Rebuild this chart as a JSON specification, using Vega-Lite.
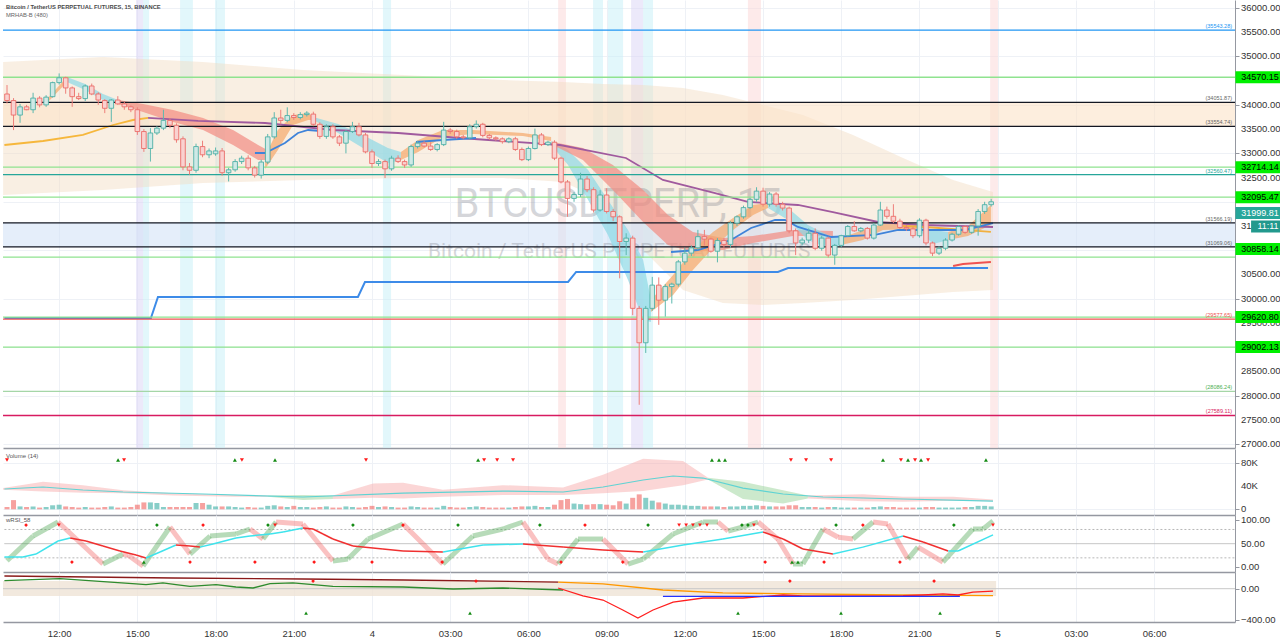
{
"$schema":"https://vega.github.io/schema/vega-lite/v6.json",
"padding":0,"spacing":0,"background":"#ffffff",
"resolve":{"scale":{"x":"independent","y":"independent","color":"independent","shape":"independent"}},
"datasets":{
"candles":[
{"h":10,"o":34225,"hi":34410,"lo":34030,"c":34090,"v":4},{"h":10.25,"o":34090,"hi":34140,"lo":33480,"c":33790,"v":16},{"h":10.5,"o":33790,"hi":34020,"lo":33630,"c":33960,"v":5},{"h":10.75,"o":33960,"hi":34000,"lo":33890,"c":33900,"v":4},{"h":11,"o":33900,"hi":34250,"lo":33830,"c":34140,"v":5},{"h":11.25,"o":34140,"hi":34180,"lo":33950,"c":34000,"v":3},{"h":11.5,"o":34000,"hi":34200,"lo":33960,"c":34160,"v":4},{"h":11.75,"o":34170,"hi":34480,"lo":34150,"c":34460,"v":7},{"h":12,"o":34460,"hi":34650,"lo":34420,"c":34560,"v":8},{"h":12.25,"o":34560,"hi":34580,"lo":34230,"c":34350,"v":5},
{"h":12.5,"o":34350,"hi":34380,"lo":33960,"c":34170,"v":4},{"h":12.75,"o":34170,"hi":34250,"lo":34100,"c":34130,"v":3},{"h":13,"o":34130,"hi":34420,"lo":34080,"c":34390,"v":4},{"h":13.25,"o":34390,"hi":34440,"lo":34200,"c":34225,"v":3},{"h":13.5,"o":34225,"hi":34260,"lo":34000,"c":34100,"v":3},{"h":13.75,"o":34090,"hi":34120,"lo":33830,"c":33930,"v":4},{"h":14,"o":33930,"hi":34120,"lo":33650,"c":34100,"v":5},{"h":14.25,"o":34100,"hi":34180,"lo":34000,"c":34020,"v":3},{"h":14.5,"o":34020,"hi":34060,"lo":33900,"c":33960,"v":3},{"h":14.75,"o":33960,"hi":33990,"lo":33850,"c":33900,"v":4},
{"h":15,"o":33900,"hi":33950,"lo":33380,"c":33450,"v":8},{"h":15.25,"o":33450,"hi":33500,"lo":33030,"c":33100,"v":12},{"h":15.5,"o":33100,"hi":33520,"lo":32830,"c":33420,"v":12},{"h":15.75,"o":33420,"hi":33560,"lo":33380,"c":33520,"v":11},{"h":16,"o":33520,"hi":33900,"lo":33480,"c":33680,"v":4},{"h":16.25,"o":33680,"hi":33720,"lo":33520,"c":33580,"v":4},{"h":16.5,"o":33580,"hi":33620,"lo":33220,"c":33280,"v":4},{"h":16.75,"o":33300,"hi":33350,"lo":32650,"c":32720,"v":4},{"h":17,"o":32720,"hi":32800,"lo":32560,"c":32650,"v":4},{"h":17.25,"o":32650,"hi":33200,"lo":32600,"c":33140,"v":11},
{"h":17.5,"o":33140,"hi":33260,"lo":32920,"c":32970,"v":11},{"h":17.75,"o":32970,"hi":33100,"lo":32900,"c":33050,"v":8},{"h":18,"o":32990,"hi":33120,"lo":32950,"c":33050,"v":5},{"h":18.25,"o":33050,"hi":33110,"lo":32540,"c":32600,"v":5},{"h":18.5,"o":32600,"hi":32700,"lo":32420,"c":32660,"v":5},{"h":18.75,"o":32660,"hi":32880,"lo":32620,"c":32830,"v":4},{"h":19,"o":32830,"hi":32950,"lo":32780,"c":32900,"v":3},{"h":19.25,"o":32900,"hi":32960,"lo":32650,"c":32700,"v":4},{"h":19.5,"o":32700,"hi":32740,"lo":32500,"c":32550,"v":3},{"h":19.75,"o":32550,"hi":32870,"lo":32480,"c":32820,"v":3},
{"h":20,"o":32820,"hi":33400,"lo":32780,"c":33340,"v":6},{"h":20.25,"o":33340,"hi":33850,"lo":33300,"c":33730,"v":7},{"h":20.5,"o":33730,"hi":33900,"lo":33600,"c":33680,"v":5},{"h":20.75,"o":33680,"hi":33950,"lo":33640,"c":33780,"v":4},{"h":21,"o":33780,"hi":33830,"lo":33690,"c":33740,"v":6},{"h":21.25,"o":33740,"hi":33850,"lo":33700,"c":33800,"v":4},{"h":21.5,"o":33800,"hi":33870,"lo":33760,"c":33830,"v":4},{"h":21.75,"o":33810,"hi":33860,"lo":33560,"c":33600,"v":3},{"h":22,"o":33600,"hi":33640,"lo":33300,"c":33350,"v":4},{"h":22.25,"o":33350,"hi":33600,"lo":33300,"c":33550,"v":5},
{"h":22.5,"o":33550,"hi":33600,"lo":33300,"c":33340,"v":3},{"h":22.75,"o":33340,"hi":33380,"lo":33150,"c":33210,"v":3},{"h":23,"o":33210,"hi":33480,"lo":33000,"c":33450,"v":5},{"h":23.25,"o":33450,"hi":33650,"lo":33420,"c":33550,"v":4},{"h":23.5,"o":33550,"hi":33630,"lo":33350,"c":33380,"v":3},{"h":23.75,"o":33380,"hi":33420,"lo":33000,"c":33030,"v":4},{"h":24,"o":33030,"hi":33080,"lo":32700,"c":32790,"v":6},{"h":24.25,"o":32790,"hi":32880,"lo":32740,"c":32830,"v":4},{"h":24.5,"o":32830,"hi":32870,"lo":32490,"c":32680,"v":5},{"h":24.75,"o":32680,"hi":32950,"lo":32640,"c":32900,"v":4},
{"h":25,"o":32900,"hi":32960,"lo":32800,"c":32830,"v":3},{"h":25.25,"o":32830,"hi":32870,"lo":32700,"c":32760,"v":3},{"h":25.5,"o":32760,"hi":33180,"lo":32720,"c":33140,"v":5},{"h":25.75,"o":33140,"hi":33260,"lo":33100,"c":33210,"v":4},{"h":26,"o":33210,"hi":33250,"lo":33120,"c":33150,"v":3},{"h":26.25,"o":33150,"hi":33230,"lo":33050,"c":33080,"v":3},{"h":26.5,"o":33080,"hi":33210,"lo":33040,"c":33180,"v":3},{"h":26.75,"o":33180,"hi":33650,"lo":33150,"c":33480,"v":6},{"h":27,"o":33480,"hi":33520,"lo":33400,"c":33450,"v":4},{"h":27.25,"o":33450,"hi":33490,"lo":33300,"c":33340,"v":3},
{"h":27.5,"o":33340,"hi":33380,"lo":33290,"c":33320,"v":3},{"h":27.75,"o":33320,"hi":33600,"lo":33290,"c":33550,"v":4},{"h":28,"o":33550,"hi":33680,"lo":33510,"c":33600,"v":5},{"h":28.25,"o":33600,"hi":33630,"lo":33330,"c":33370,"v":4},{"h":28.5,"o":33370,"hi":33400,"lo":33280,"c":33320,"v":3},{"h":28.75,"o":33320,"hi":33350,"lo":33260,"c":33300,"v":3},{"h":29,"o":33300,"hi":33330,"lo":33200,"c":33240,"v":3},{"h":29.25,"o":33240,"hi":33330,"lo":33210,"c":33300,"v":3},{"h":29.5,"o":33300,"hi":33340,"lo":33050,"c":33080,"v":4},{"h":29.75,"o":33080,"hi":33120,"lo":32840,"c":32870,"v":5},
{"h":30,"o":32870,"hi":33140,"lo":32840,"c":33100,"v":5},{"h":30.25,"o":33100,"hi":33510,"lo":33080,"c":33380,"v":6},{"h":30.5,"o":33380,"hi":33420,"lo":33150,"c":33180,"v":4},{"h":30.75,"o":33180,"hi":33260,"lo":33150,"c":33230,"v":4},{"h":31,"o":33230,"hi":33270,"lo":32860,"c":32900,"v":8},{"h":31.25,"o":32900,"hi":32930,"lo":32380,"c":32410,"v":16},{"h":31.5,"o":32410,"hi":32450,"lo":31690,"c":32070,"v":18},{"h":31.75,"o":32070,"hi":32200,"lo":32000,"c":32150,"v":10},{"h":32,"o":32150,"hi":32600,"lo":32100,"c":32470,"v":9},{"h":32.25,"o":32470,"hi":32530,"lo":32200,"c":32250,"v":8},
{"h":32.5,"o":32250,"hi":32300,"lo":31780,"c":31830,"v":9},{"h":32.75,"o":31830,"hi":32240,"lo":31800,"c":32140,"v":9},{"h":33,"o":32140,"hi":32280,"lo":31760,"c":31800,"v":8},{"h":33.25,"o":31800,"hi":31850,"lo":31600,"c":31690,"v":7},{"h":33.5,"o":31690,"hi":31720,"lo":30420,"c":31180,"v":14},{"h":33.75,"o":31180,"hi":31350,"lo":30900,"c":31250,"v":10},{"h":34,"o":31250,"hi":31300,"lo":29660,"c":29800,"v":20},{"h":34.25,"o":29800,"hi":29850,"lo":27810,"c":29090,"v":26},{"h":34.5,"o":29090,"hi":29850,"lo":28880,"c":29800,"v":20},{"h":34.75,"o":29800,"hi":30450,"lo":29750,"c":30280,"v":15},
{"h":35,"o":30280,"hi":30440,"lo":29460,"c":29970,"v":12},{"h":35.25,"o":29970,"hi":30300,"lo":29630,"c":30250,"v":10},{"h":35.5,"o":30250,"hi":30330,"lo":29900,"c":30300,"v":8},{"h":35.75,"o":30300,"hi":30800,"lo":30250,"c":30760,"v":8},{"h":36,"o":30760,"hi":31050,"lo":30700,"c":30940,"v":7},{"h":36.25,"o":30940,"hi":31100,"lo":30880,"c":31050,"v":6},{"h":36.5,"o":31050,"hi":31420,"lo":31000,"c":31280,"v":6},{"h":36.75,"o":31280,"hi":31420,"lo":31100,"c":31230,"v":5},{"h":37,"o":31230,"hi":31260,"lo":30950,"c":30980,"v":5},{"h":37.25,"o":30980,"hi":31250,"lo":30750,"c":31200,"v":5},
{"h":37.5,"o":31200,"hi":31250,"lo":31050,"c":31120,"v":4},{"h":37.75,"o":31120,"hi":31600,"lo":31050,"c":31560,"v":5},{"h":38,"o":31560,"hi":31720,"lo":31500,"c":31690,"v":5},{"h":38.25,"o":31690,"hi":31920,"lo":31650,"c":31880,"v":6},{"h":38.5,"o":31880,"hi":32080,"lo":31850,"c":32050,"v":6},{"h":38.75,"o":32050,"hi":32300,"lo":32000,"c":32220,"v":7},{"h":39,"o":32220,"hi":32290,"lo":31900,"c":31950,"v":6},{"h":39.25,"o":31950,"hi":32200,"lo":31900,"c":32160,"v":5},{"h":39.5,"o":32160,"hi":32200,"lo":31900,"c":31950,"v":5},{"h":39.75,"o":31950,"hi":32000,"lo":31820,"c":31870,"v":5},
{"h":40,"o":31870,"hi":31900,"lo":31350,"c":31400,"v":7},{"h":40.25,"o":31400,"hi":31450,"lo":30900,"c":31150,"v":7},{"h":40.5,"o":31150,"hi":31260,"lo":31100,"c":31210,"v":4},{"h":40.75,"o":31210,"hi":31450,"lo":31150,"c":31350,"v":4},{"h":41,"o":31350,"hi":31450,"lo":31000,"c":31040,"v":4},{"h":41.25,"o":31040,"hi":31300,"lo":30990,"c":31250,"v":3},{"h":41.5,"o":31250,"hi":31280,"lo":30850,"c":30900,"v":4},{"h":41.75,"o":30900,"hi":31130,"lo":30700,"c":31100,"v":4},{"h":42,"o":31100,"hi":31320,"lo":31060,"c":31300,"v":3},{"h":42.25,"o":31300,"hi":31520,"lo":31280,"c":31490,"v":3},
{"h":42.5,"o":31490,"hi":31600,"lo":31380,"c":31400,"v":3},{"h":42.75,"o":31400,"hi":31480,"lo":31370,"c":31450,"v":3},{"h":43,"o":31450,"hi":31480,"lo":31220,"c":31250,"v":3},{"h":43.25,"o":31250,"hi":31560,"lo":31220,"c":31520,"v":4},{"h":43.5,"o":31520,"hi":32000,"lo":31500,"c":31830,"v":5},{"h":43.75,"o":31830,"hi":31900,"lo":31650,"c":31700,"v":4},{"h":44,"o":31700,"hi":31950,"lo":31560,"c":31600,"v":4},{"h":44.25,"o":31600,"hi":31650,"lo":31440,"c":31470,"v":3},{"h":44.5,"o":31470,"hi":31520,"lo":31400,"c":31440,"v":3},{"h":44.75,"o":31440,"hi":31480,"lo":31250,"c":31300,"v":3},
{"h":45,"o":31300,"hi":31660,"lo":31260,"c":31620,"v":3},{"h":45.25,"o":31620,"hi":31650,"lo":31100,"c":31150,"v":4},{"h":45.5,"o":31150,"hi":31180,"lo":30880,"c":30940,"v":4},{"h":45.75,"o":30940,"hi":31080,"lo":30900,"c":31040,"v":3},{"h":46,"o":31040,"hi":31250,"lo":31000,"c":31210,"v":3},{"h":46.25,"o":31210,"hi":31360,"lo":31180,"c":31330,"v":3},{"h":46.5,"o":31330,"hi":31520,"lo":31300,"c":31490,"v":3},{"h":46.75,"o":31490,"hi":31520,"lo":31340,"c":31370,"v":4},{"h":47,"o":31370,"hi":31520,"lo":31340,"c":31500,"v":4},{"h":47.25,"o":31500,"hi":31850,"lo":31300,"c":31800,"v":6},
{"h":47.5,"o":31800,"hi":32000,"lo":31750,"c":31940,"v":6},{"h":47.75,"o":31940,"hi":32060,"lo":31900,"c":32000,"v":5}
],
"stripes":[{"h":14.95,"h2":15.22,"k":"s2"},{"h":15.22,"h2":15.45,"k":"s1"},{"h":16.64,"h2":17.13,"k":"s1"},{"h":17.98,"h2":18.36,"k":"s1"},{"h":24.42,"h2":24.73,"k":"s1"},{"h":31.14,"h2":31.44,"k":"s3"},{"h":32.48,"h2":32.86,"k":"s1"},{"h":33.05,"h2":33.63,"k":"s1"},{"h":33.94,"h2":34.4,"k":"s2"},{"h":34.4,"h2":34.78,"k":"s1"},{"h":38.42,"h2":38.92,"k":"s3"},{"h":47.71,"h2":48.01,"k":"s3"}],
"env":[{"h":9.85,"a":34885,"b":32140},{"h":13.68,"a":34989,"b":32243},{"h":17.52,"a":34885,"b":32388},{"h":21.35,"a":34720,"b":32450},{"h":25.19,"a":34617,"b":32491},{"h":29.02,"a":34514,"b":32491},{"h":31.33,"a":34473,"b":32409},{"h":32.86,"a":34431,"b":32037},{"h":34.4,"a":34411,"b":31005},{"h":35.93,"a":34349,"b":30180},{"h":37.46,"a":34204,"b":29911},{"h":39.0,"a":33998,"b":29870},{"h":40.53,"a":33792,"b":29911},{"h":42.45,"a":33379,"b":29973},{"h":44.37,"a":32904,"b":30056},{"h":46.29,"a":32450,"b":30138},{"h":47.82,"a":32202,"b":30180}],
"zones":[{"a":34051.87,"b":33554.74,"k":"z1"},{"a":31566.19,"b":31069.06,"k":"z2"}],
"rib":[
{"g":"B0","k":"bull","h":11.5,"a":34101,"b":34019},{"g":"B0","k":"bull","h":12.3,"a":34576,"b":34473},
{"g":"C0","k":"fast","h":12.3,"a":34576,"b":34473},{"g":"C0","k":"fast","h":13.0,"a":34431,"b":34307},{"g":"C0","k":"fast","h":13.68,"a":34225,"b":34101},{"g":"C0","k":"fast","h":14.26,"a":34101,"b":34019},
{"g":"A","k":"bear","h":14.26,"a":34101,"b":34019},{"g":"A","k":"bear","h":15.22,"a":34019,"b":33853},{"g":"A","k":"bear","h":16.37,"a":33895,"b":33647},{"g":"A","k":"bear","h":17.52,"a":33730,"b":33482},{"g":"A","k":"bear","h":18.67,"a":33482,"b":33172},{"g":"A","k":"bear","h":19.63,"a":33172,"b":32863},{"g":"A","k":"bear","h":20.13,"a":33028,"b":32863},
{"g":"B","k":"bull","h":19.9,"a":32945,"b":32677},{"g":"B","k":"bull","h":20.39,"a":33482,"b":33069},{"g":"B","k":"bull","h":20.97,"a":33792,"b":33585},{"g":"B","k":"bull","h":21.55,"a":33833,"b":33688},{"g":"B","k":"bull","h":21.74,"a":33750,"b":33688},
{"g":"C1","k":"fast","h":21.74,"a":33750,"b":33688},{"g":"C1","k":"fast","h":22.7,"a":33606,"b":33420},{"g":"C1","k":"fast","h":23.65,"a":33379,"b":33110},{"g":"C1","k":"fast","h":24.61,"a":33110,"b":32801},{"g":"C1","k":"fast","h":25.11,"a":33028,"b":32863},
{"g":"B2","k":"bull","h":25.11,"a":33028,"b":32863},{"g":"B2","k":"bull","h":25.77,"a":33275,"b":33028},{"g":"B2","k":"bull","h":26.72,"a":33482,"b":33338},{"g":"B2","k":"bull","h":27.87,"a":33482,"b":33399},{"g":"B2","k":"bull","h":29.79,"a":33420,"b":33358},{"g":"B2","k":"bull","h":30.87,"a":33337,"b":33255},
{"g":"C2","k":"fast","h":30.87,"a":33255,"b":33172},{"g":"C2","k":"fast","h":31.52,"a":33069,"b":32760},{"g":"C2","k":"fast","h":32.29,"a":32656,"b":32037},{"g":"C2","k":"fast","h":33.05,"a":32037,"b":31315},{"g":"C2","k":"fast","h":33.82,"a":31418,"b":30386},{"g":"C2","k":"fast","h":34.4,"a":30799,"b":29560},{"g":"C2","k":"fast","h":34.7,"a":29973,"b":29519},
{"g":"D","k":"bear","h":30.94,"a":33234,"b":33172},{"g":"D","k":"bear","h":32.09,"a":33110,"b":32863},{"g":"D","k":"bear","h":33.24,"a":32760,"b":32243},{"g":"D","k":"bear","h":34.4,"a":32243,"b":31583},{"g":"D","k":"bear","h":35.35,"a":31728,"b":31108},{"g":"D","k":"bear","h":36.31,"a":31376,"b":30963},{"g":"D","k":"bear","h":37.46,"a":31253,"b":31005},{"g":"D","k":"bear","h":38.61,"a":31294,"b":31150},{"g":"D","k":"bear","h":40.15,"a":31418,"b":31294},{"g":"D","k":"bear","h":41.68,"a":31397,"b":31294},
{"g":"E","k":"bull","h":34.7,"a":29973,"b":29725},{"g":"E","k":"bull","h":35.55,"a":30489,"b":30076},{"g":"E","k":"bull","h":36.31,"a":31005,"b":30592},{"g":"E","k":"bull","h":37.08,"a":31376,"b":31046},{"g":"E","k":"bull","h":37.85,"a":31665,"b":31418},{"g":"E","k":"bull","h":38.62,"a":31934,"b":31728},{"g":"E","k":"bull","h":39.19,"a":31975,"b":31872},
{"g":"F","k":"fast","h":39.19,"a":31975,"b":31872},{"g":"F","k":"fast","h":39.96,"a":31872,"b":31624},{"g":"F","k":"fast","h":40.72,"a":31521,"b":31211},{"g":"F","k":"fast","h":41.49,"a":31315,"b":31046},{"g":"F","k":"fast","h":41.99,"a":31253,"b":31108},
{"g":"G","k":"bull","h":41.99,"a":31253,"b":31108},{"g":"G","k":"bull","h":42.83,"a":31418,"b":31211},{"g":"G","k":"bull","h":43.6,"a":31541,"b":31418},{"g":"G","k":"bull","h":44.94,"a":31541,"b":31438},
{"g":"H","k":"fast","h":44.94,"a":31541,"b":31438},{"g":"H","k":"fast","h":45.52,"a":31418,"b":31129},{"g":"H","k":"fast","h":46.1,"a":31376,"b":31211},
{"g":"I","k":"bull","h":46.1,"a":31376,"b":31211},{"g":"I","k":"bull","h":46.86,"a":31500,"b":31294},{"g":"I","k":"bull","h":47.74,"a":31934,"b":31521}
],
"mas":[
{"g":"gold","k":"m1","h":9.9,"p":33172},{"g":"gold","k":"m1","h":11.38,"p":33255},{"g":"gold","k":"m1","h":12.91,"p":33379},{"g":"gold","k":"m1","h":14.07,"p":33585},{"g":"gold","k":"m1","h":14.83,"p":33688},{"g":"gold","k":"m1","h":15.41,"p":33730},
{"g":"pur","k":"m2","h":15.41,"p":33730},{"g":"pur","k":"m2","h":17.33,"p":33668},{"g":"pur","k":"m2","h":19.9,"p":33626},{"g":"pur","k":"m2","h":22.5,"p":33482},{"g":"pur","k":"m2","h":25.0,"p":33420},{"g":"pur","k":"m2","h":27.38,"p":33317},{"g":"pur","k":"m2","h":31.21,"p":33172},{"g":"pur","k":"m2","h":33.74,"p":32904},{"g":"pur","k":"m2","h":35.16,"p":32450},{"g":"pur","k":"m2","h":37.16,"p":32181},{"g":"pur","k":"m2","h":38.42,"p":31996},{"g":"pur","k":"m2","h":40.34,"p":31934},{"g":"pur","k":"m2","h":41.68,"p":31789},{"g":"pur","k":"m2","h":43.41,"p":31583},{"g":"pur","k":"m2","h":45.14,"p":31521},{"g":"pur","k":"m2","h":47.82,"p":31480},
{"g":"org","k":"m3","h":44.37,"p":31500},{"g":"org","k":"m3","h":45.22,"p":31480},{"g":"org","k":"m3","h":47.74,"p":31377},
{"g":"b1","k":"m4","h":19.51,"p":33007},{"g":"b1","k":"m4","h":19.9,"p":33007},{"g":"b1","k":"m4","h":20.66,"p":33214},{"g":"b1","k":"m4","h":21.16,"p":33420},{"g":"b1","k":"m4","h":21.55,"p":33482},{"g":"b1","k":"m4","h":22.04,"p":33461},
{"g":"b2","k":"m4","h":25.69,"p":33234},{"g":"b2","k":"m4","h":26.72,"p":33275},{"g":"b2","k":"m4","h":27.99,"p":33317},
{"g":"b3","k":"m4","h":35.47,"p":30964},{"g":"b3","k":"m4","h":36.5,"p":31005},{"g":"b3","k":"m4","h":37.77,"p":31211},{"g":"b3","k":"m4","h":38.54,"p":31459},{"g":"b3","k":"m4","h":39.46,"p":31624},{"g":"b3","k":"m4","h":39.84,"p":31624},{"g":"b3","k":"m4","h":40.34,"p":31480},{"g":"b3","k":"m4","h":41.61,"p":31273},{"g":"b3","k":"m4","h":43.29,"p":31315},{"g":"b3","k":"m4","h":44.18,"p":31418},{"g":"b3","k":"m4","h":46.75,"p":31418},{"g":"b3","k":"m4","h":47.82,"p":31562}
],
"step":[
{"g":"t1","h":9.9,"p":29602},{"g":"t1","h":15.52,"p":29602},{"g":"t1","h":15.79,"p":30035},{"g":"t1","h":23.46,"p":30035},{"g":"t1","h":23.73,"p":30345},{"g":"t1","h":31.52,"p":30345},{"g":"t1","h":31.83,"p":30551},{"g":"t1","h":39.57,"p":30551},{"g":"t1","h":39.96,"p":30634},{"g":"t1","h":47.63,"p":30634},
{"g":"t2","h":46.29,"p":30675},{"g":"t2","h":46.67,"p":30716},{"g":"t2","h":47.74,"p":30757}
],
"levels":[
{"p":35543.28,"k":"r3","lbl":"(35543.28)"},{"p":34570.15,"k":"lvl","lbl":""},{"p":34051.87,"k":"zone","lbl":"(34051.87)"},{"p":33554.74,"k":"zone","lbl":"(33554.74)"},{"p":32714.14,"k":"lvl","lbl":""},{"p":32560.47,"k":"pv","lbl":"(32560.47)"},{"p":32095.47,"k":"lvl","lbl":""},{"p":31566.19,"k":"zone","lbl":"(31566.19)"},{"p":31069.06,"k":"zone","lbl":"(31069.06)"},{"p":30858.14,"k":"lvl","lbl":""},{"p":29620.8,"k":"lvl","lbl":""},{"p":29577.65,"k":"s1","lbl":"(29577.65)"},{"p":29002.13,"k":"lvl","lbl":""},{"p":28086.24,"k":"s2","lbl":"(28086.24)"},{"p":27589.11,"k":"s3","lbl":"(27589.11)"}
],
"pticks":[{"p":27000},{"p":27500},{"p":28000},{"p":28500},{"p":29500},{"p":30000},{"p":30500},{"p":31000},{"p":31500},{"p":32500},{"p":33000},{"p":33500},{"p":34000},{"p":35000},{"p":35500},{"p":36000}],
"tags":[{"p":34570.15,"lbl":"34570.15","k":"lvl"},{"p":32714.14,"lbl":"32714.14","k":"lvl"},{"p":32095.47,"lbl":"32095.47","k":"lvl"},{"p":31026,"lbl":"30858.14","k":"lvl"},{"p":29620.8,"lbl":"29620.80","k":"lvl"},{"p":29002.13,"lbl":"29002.13","k":"lvl"},{"p":31770,"lbl":"31999.81","k":"last"}],
"vma":[{"h":9.9,"m":35.3},{"h":11.38,"m":38.8},{"h":12.91,"m":33.6},{"h":14.45,"m":30.1},{"h":17.52,"m":26.6},{"h":21.35,"m":21.4},{"h":25.19,"m":28.3},{"h":29.02,"m":31.8},{"h":31.33,"m":30.1},{"h":32.86,"m":38.8},{"h":34.4,"m":51},{"h":35.55,"m":57.9},{"h":36.7,"m":54.4},{"h":38.23,"m":37},{"h":39.77,"m":26.6},{"h":41.3,"m":21.4},{"h":44.37,"m":17.9},{"h":47.82,"m":14.4}],
"vband":[
{"g":"1","k":"dn","h":9.85,"a":37,"b":34},{"g":"1","k":"dn","h":11.38,"a":48,"b":31},{"g":"1","k":"dn","h":12.91,"a":42,"b":29},{"g":"1","k":"dn","h":14.45,"a":33,"b":28},{"g":"1","k":"dn","h":16.37,"a":28,"b":24},{"g":"1","k":"dn","h":18.67,"a":25,"b":22},{"g":"1","k":"dn","h":20.01,"a":24,"b":22},
{"g":"2","k":"up","h":20.01,"a":24,"b":22},{"g":"2","k":"up","h":21.35,"a":25,"b":16},{"g":"2","k":"up","h":22.5,"a":24,"b":18},
{"g":"3","k":"dn","h":22.5,"a":24,"b":18},{"g":"3","k":"dn","h":24.04,"a":45,"b":20},{"g":"3","k":"dn","h":25.19,"a":46,"b":19},{"g":"3","k":"dn","h":26.72,"a":34,"b":22},{"g":"3","k":"dn","h":29.02,"a":42,"b":25},{"g":"3","k":"dn","h":31.33,"a":38,"b":25},{"g":"3","k":"dn","h":32.86,"a":60,"b":28},{"g":"3","k":"dn","h":34.4,"a":88,"b":32},{"g":"3","k":"dn","h":35.93,"a":84,"b":42},{"g":"3","k":"dn","h":36.89,"a":55,"b":52},
{"g":"4","k":"up","h":36.89,"a":55,"b":52},{"g":"4","k":"up","h":38.23,"a":48,"b":18},{"g":"4","k":"up","h":39.77,"a":33,"b":10},{"g":"4","k":"up","h":40.72,"a":24,"b":19},
{"g":"5","k":"dn","h":40.72,"a":24,"b":19},{"g":"5","k":"dn","h":42.83,"a":26,"b":14},{"g":"5","k":"dn","h":44.37,"a":22,"b":13},{"g":"5","k":"dn","h":46.29,"a":22,"b":15},{"g":"5","k":"dn","h":47.82,"a":17,"b":14}
],
"vticks":[{"v":0,"t":"0"},{"v":40,"t":"40K"},{"v":80,"t":"80K"}],
"vmark":[{"h":10.0,"d":"dn"},{"h":14.26,"d":"up"},{"h":14.49,"d":"dn"},{"h":18.74,"d":"up"},{"h":19.01,"d":"dn"},{"h":20.28,"d":"up"},{"h":23.77,"d":"dn"},{"h":28.07,"d":"up"},{"h":28.3,"d":"dn"},{"h":28.8,"d":"dn"},{"h":29.41,"d":"dn"},{"h":37.04,"d":"up"},{"h":37.31,"d":"up"},{"h":37.54,"d":"up"},{"h":40.07,"d":"dn"},{"h":40.65,"d":"dn"},{"h":41.61,"d":"dn"},{"h":43.6,"d":"up"},{"h":44.29,"d":"dn"},{"h":44.56,"d":"up"},{"h":44.83,"d":"dn"},{"h":45.06,"d":"up"},{"h":45.33,"d":"dn"},{"h":47.55,"d":"up"}],
"fast":[{"h":10.0,"r":14},{"h":11.0,"r":66.2},{"h":11.96,"r":95.8},{"h":13.68,"r":7},{"h":14.45,"r":28.1},{"h":14.64,"r":26},{"h":15.22,"r":2.7},{"h":16.25,"r":85.2},{"h":17.02,"r":28.1},{"h":17.79,"r":66.2},{"h":18.78,"r":70.4},{"h":19.32,"r":81},{"h":19.82,"r":59.8},{"h":20.32,"r":95.8},{"h":21.35,"r":91.5},{"h":22.5,"r":13.3},{"h":23.08,"r":17.5},{"h":23.85,"r":59.8},{"h":25.19,"r":91.5},{"h":25.96,"r":49.3},{"h":26.72,"r":7},{"h":27.87,"r":66.2},{"h":29.02,"r":81},{"h":29.79,"r":95.8},{"h":30.75,"r":17.5},{"h":31.14,"r":7},{"h":31.9,"r":59.8},{"h":32.86,"r":59.8},{"h":33.82,"r":7},{"h":34.4,"r":17.5},{"h":35.55,"r":70.4},{"h":36.7,"r":95.8},{"h":37.27,"r":95.8},{"h":37.66,"r":76.7},{"h":38.23,"r":85.2},{"h":38.81,"r":95.8},{"h":39.57,"r":59.8},{"h":40.15,"r":7},{"h":40.53,"r":7},{"h":41.3,"r":81},{"h":41.88,"r":63.5},{"h":42.45,"r":59.8},{"h":43.22,"r":95.8},{"h":43.79,"r":91.5},{"h":44.56,"r":17.5},{"h":44.94,"r":42.7},{"h":45.9,"r":11.2},{"h":47.05,"r":81},{"h":47.44,"r":81},{"h":47.82,"r":97.9}],
"slow":[{"h":9.9,"r":21.8},{"h":10.61,"r":21.8},{"h":11.11,"r":28.1},{"h":11.96,"r":55.6},{"h":12.42,"r":61.9},{"h":13.03,"r":55.6},{"h":13.68,"r":45},{"h":14.33,"r":34.5},{"h":14.95,"r":26},{"h":15.33,"r":19.7},{"h":15.87,"r":32.3},{"h":16.48,"r":47.1},{"h":17.02,"r":45},{"h":17.4,"r":42.7},{"h":17.9,"r":49.3},{"h":18.78,"r":61.9},{"h":19.32,"r":66.2},{"h":20.09,"r":70.4},{"h":20.59,"r":74.6},{"h":21.35,"r":83.1},{"h":21.74,"r":81},{"h":22.12,"r":70.4},{"h":22.5,"r":59.8},{"h":23.27,"r":45},{"h":24.42,"r":38.7},{"h":25.19,"r":34.5},{"h":26.72,"r":32.3},{"h":28.26,"r":47.1},{"h":29.79,"r":49.3},{"h":31.33,"r":42.7},{"h":32.86,"r":36.6},{"h":34.4,"r":32.3},{"h":35.93,"r":47.1},{"h":37.46,"r":59.8},{"h":39.0,"r":74.6},{"h":39.77,"r":59.8},{"h":40.53,"r":38.7},{"h":41.68,"r":28.1},{"h":42.83,"r":42.7},{"h":44.37,"r":66.2},{"h":45.14,"r":53.5},{"h":46.1,"r":34.5},{"h":46.48,"r":34.5},{"h":47.82,"r":68.5}],
"rsil":[{"r":80,"k":"ob"},{"r":50,"k":"mid"},{"r":20,"k":"os"}],
"rticks":[{"r":0},{"r":50},{"r":100}],
"rmark":[{"h":10.73,"r":89.4,"d":"dn","s":"d"},{"h":11.99,"r":89.4,"d":"dn","s":"t"},{"h":17.52,"r":89.4,"d":"dn","s":"d"},{"h":20.28,"r":89.4,"d":"dn","s":"t"},{"h":25.19,"r":89.4,"d":"dn","s":"d"},{"h":32.17,"r":89.4,"d":"dn","s":"d"},{"h":35.78,"r":89.4,"d":"dn","s":"t"},{"h":36.05,"r":89.4,"d":"dn","s":"t"},{"h":36.31,"r":89.4,"d":"dn","s":"t"},{"h":36.58,"r":89.4,"d":"dn","s":"t"},{"h":36.85,"r":89.4,"d":"dn","s":"t"},{"h":38.65,"r":89.4,"d":"dn","s":"t"},{"h":42.83,"r":89.4,"d":"dn","s":"d"},{"h":47.82,"r":89.4,"d":"dn","s":"t"},
{"h":15.75,"r":89.4,"d":"up","s":"d"},{"h":20.01,"r":89.4,"d":"up","s":"d"},{"h":23.27,"r":89.4,"d":"up","s":"d"},{"h":27.3,"r":89.4,"d":"up","s":"d"},{"h":30.44,"r":89.4,"d":"up","s":"d"},{"h":34.59,"r":89.4,"d":"up","s":"d"},{"h":38.19,"r":89.4,"d":"up","s":"d"},{"h":38.42,"r":89.4,"d":"up","s":"d"},{"h":41.8,"r":89.4,"d":"up","s":"d"},{"h":46.32,"r":89.4,"d":"up","s":"d"},
{"h":12.49,"r":11.2,"d":"dn","s":"d"},{"h":17.02,"r":11.2,"d":"dn","s":"d"},{"h":19.51,"r":11.2,"d":"dn","s":"d"},{"h":21.78,"r":11.2,"d":"dn","s":"d"},{"h":24.0,"r":11.2,"d":"dn","s":"d"},{"h":26.69,"r":11.2,"d":"dn","s":"d"},{"h":31.25,"r":11.2,"d":"dn","s":"d"},{"h":33.62,"r":11.2,"d":"dn","s":"d"},{"h":39.08,"r":11.2,"d":"dn","s":"d"},{"h":41.34,"r":11.2,"d":"dn","s":"d"},{"h":44.25,"r":11.2,"d":"dn","s":"d"},
{"h":15.25,"r":11.2,"d":"up","s":"u"},{"h":40.11,"r":11.2,"d":"up","s":"u"},{"h":40.34,"r":11.2,"d":"up","s":"u"}],
"osc":[
{"k":"a","h":9.9,"v":164},{"k":"a","h":16.37,"v":138},{"k":"a","h":21.35,"v":125},{"k":"a","h":25.19,"v":112},{"k":"a","h":31.14,"v":86},
{"k":"b","h":9.9,"v":103},{"k":"b","h":12.03,"v":129},{"k":"b","h":14.95,"v":61},{"k":"b","h":15.33,"v":52},{"k":"b","h":15.98,"v":74},{"k":"b","h":16.48,"v":52},{"k":"b","h":17.02,"v":31},{"k":"b","h":18.02,"v":52},{"k":"b","h":18.78,"v":22},{"k":"b","h":19.44,"v":9},{"k":"b","h":20.09,"v":65},{"k":"b","h":20.97,"v":74},{"k":"b","h":21.74,"v":52},{"k":"b","h":22.5,"v":31},{"k":"b","h":25.19,"v":22},{"k":"b","h":27.11,"v":-4},{"k":"b","h":29.02,"v":9},{"k":"b","h":31.33,"v":-17},
{"k":"c","h":31.14,"v":86},{"k":"c","h":32.86,"v":61},{"k":"c","h":35.16,"v":-17},{"k":"c","h":37.46,"v":-55},{"k":"c","h":40.53,"v":-68},{"k":"c","h":44.37,"v":-81},{"k":"c","h":47.82,"v":-90},
{"k":"d","h":31.14,"v":9},{"k":"d","h":32.09,"v":-94},{"k":"d","h":32.86,"v":-146},{"k":"d","h":33.62,"v":-275},{"k":"d","h":34.2,"v":-378},{"k":"d","h":34.78,"v":-275},{"k":"d","h":35.55,"v":-172},{"k":"d","h":36.7,"v":-120},{"k":"d","h":38.23,"v":-120},{"k":"d","h":39.77,"v":-81},{"k":"d","h":40.53,"v":-94},{"k":"d","h":42.45,"v":-94},{"k":"d","h":44.37,"v":-90},{"k":"d","h":45.14,"v":-81},{"k":"d","h":45.9,"v":-68},{"k":"d","h":46.48,"v":-81},{"k":"d","h":47.05,"v":-43},{"k":"d","h":47.82,"v":-30},
{"k":"e","h":35.16,"v":-98},{"k":"e","h":40.53,"v":-100},{"k":"e","h":46.55,"v":-98}
],
"oticks":[{"v":0},{"v":-400}],
"omark":[{"h":21.47,"v":-314,"d":"up"},{"h":27.76,"v":-314,"d":"up"},{"h":38.04,"v":-314,"d":"up"},{"h":41.99,"v":-314,"d":"up"},{"h":45.79,"v":-314,"d":"up"},{"h":21.74,"v":99,"d":"dn"},{"h":27.99,"v":99,"d":"dn"},{"h":40.03,"v":99,"d":"dn"},{"h":45.56,"v":99,"d":"dn"}]
},
"vconcat":[
{"width":1232,"height":448,
"resolve":{"scale":{"color":"independent","stroke":"independent"}},
"layer":[
{"data":{"name":"stripes"},"mark":{"type":"rect","opacity":0.5},
"encoding":{"x":{"field":"h","type":"quantitative","scale":{"domain":[9.846,57.103],"nice":false,"zero":false,"padding":0},"axis":{"values":[12,15,18,21,24,27,30,33,36,39,42,45,48,51,54],"labels":false,"ticks":false,"domain":true,"domainColor":"#9598a1","domainWidth":1.5,"grid":true,"gridColor":"#eef1f6","title":null}},"x2":{"field":"h2"},
"color":{"field":"k","type":"nominal","scale":{"domain":["s1","s2","s3"],"range":["#c6f0f7","#d9d3f5","#fbd6d6"]},"legend":null}}},
{"data":{"name":"env"},"mark":{"type":"area","color":"#f2dcc0","opacity":0.45},
"encoding":{"x":{"field":"h","type":"quantitative","scale":{"domain":[9.846,57.103],"nice":false,"zero":false,"padding":0},"axis":{"title":null}},
"y":{"field":"a","type":"quantitative","scale":{"domain":[26918,36165],"nice":false,"zero":false,"padding":0},"axis":{"orient":"right","values":[27000,27500,28000,28500,29000,29500,30000,30500,31000,31500,32000,32500,33000,33500,34000,34500,35000,35500,36000],"labels":false,"grid":true,"gridColor":"#eef1f6","title":null,"tickSize":4,"domainColor":"#9598a1"}},"y2":{"field":"b"}}},
{"data":{"name":"zones"},"mark":{"type":"rect","opacity":0.6},
"encoding":{"y":{"field":"a","type":"quantitative","scale":{"domain":[26918,36165],"nice":false,"zero":false,"padding":0},"axis":{"title":null}},"y2":{"field":"b"},
"color":{"field":"k","type":"nominal","scale":{"domain":["z1","z2"],"range":["#fbe2c8","#d3e2f7"]},"legend":null}}},
{"data":{"values":[{}]},"mark":{"type":"text","text":"BTCUSDTPERP, 15","font":"Roboto","fontSize":40,"align":"center","baseline":"alphabetic","color":"#787b86","opacity":0.3},
"encoding":{"x":{"datum":33.44,"type":"quantitative","scale":{"domain":[9.846,57.103],"nice":false,"zero":false,"padding":0},"axis":{"title":null}},"y":{"datum":31686,"type":"quantitative","scale":{"domain":[26918,36165],"nice":false,"zero":false,"padding":0},"axis":{"title":null}}}},
{"data":{"values":[{}]},"mark":{"type":"text","text":"Bitcoin / TetherUS PERPETUAL FUTURES","font":"Roboto","fontSize":21,"align":"center","baseline":"alphabetic","color":"#787b86","opacity":0.3},
"encoding":{"x":{"datum":33.48,"type":"quantitative","scale":{"domain":[9.846,57.103],"nice":false,"zero":false,"padding":0},"axis":{"title":null}},"y":{"datum":30840,"type":"quantitative","scale":{"domain":[26918,36165],"nice":false,"zero":false,"padding":0},"axis":{"title":null}}}},
{"data":{"name":"rib"},"mark":{"type":"area","opacity":0.7},
"encoding":{"x":{"field":"h","type":"quantitative","scale":{"domain":[9.846,57.103],"nice":false,"zero":false,"padding":0},"axis":{"title":null}},
"y":{"field":"a","type":"quantitative","scale":{"domain":[26918,36165],"nice":false,"zero":false,"padding":0},"axis":{"title":null}},"y2":{"field":"b"},
"color":{"field":"k","type":"nominal","scale":{"domain":["bear","bull","fast"],"range":["#f28b82","#f5a86a","#8dd9e6"]},"legend":null},"detail":{"field":"g"}}},
{"data":{"name":"mas"},"mark":{"type":"line","strokeWidth":1.8},
"encoding":{"x":{"field":"h","type":"quantitative","scale":{"domain":[9.846,57.103],"nice":false,"zero":false,"padding":0},"axis":{"title":null}},
"y":{"field":"p","type":"quantitative","scale":{"domain":[26918,36165],"nice":false,"zero":false,"padding":0},"axis":{"title":null}},
"color":{"field":"k","type":"nominal","scale":{"domain":["m1","m2","m3","m4"],"range":["#f6b73c","#a05a9e","#f2b03f","#3f83d9"]},"legend":null},"detail":{"field":"g"}}},
{"data":{"name":"step"},"mark":{"type":"line","strokeWidth":2},
"encoding":{"x":{"field":"h","type":"quantitative","scale":{"domain":[9.846,57.103],"nice":false,"zero":false,"padding":0},"axis":{"title":null}},
"y":{"field":"p","type":"quantitative","scale":{"domain":[26918,36165],"nice":false,"zero":false,"padding":0},"axis":{"title":null}},
"color":{"field":"g","type":"nominal","scale":{"domain":["t1","t2"],"range":["#3d8be8","#ef5350"]},"legend":null}}},
{"data":{"name":"levels"},"mark":{"type":"rule","strokeWidth":1.3},
"encoding":{"y":{"field":"p","type":"quantitative","scale":{"domain":[26918,36165],"nice":false,"zero":false,"padding":0},"axis":{"title":null}},
"color":{"field":"k","type":"nominal","scale":{"domain":["r3","lvl","zone","pv","s1","s2","s3"],"range":["#2196f3","#8fe38f","#131722","#26a69a","#ef5350","#a5d6a7","#d81b60"]},"legend":null}}},
{"data":{"name":"levels"},"mark":{"type":"text","fontSize":5.5,"align":"right","baseline":"bottom","dy":-1},
"encoding":{"x":{"datum":56.99,"type":"quantitative","scale":{"domain":[9.846,57.103],"nice":false,"zero":false,"padding":0},"axis":{"title":null}},
"y":{"field":"p","type":"quantitative","scale":{"domain":[26918,36165],"nice":false,"zero":false,"padding":0},"axis":{"title":null}},"text":{"field":"lbl"},
"color":{"field":"k","type":"nominal","scale":{"domain":["r3","lvl","zone","pv","s1","s2","s3"],"range":["#2196f3","#4caf50","#666666","#26a69a","#ef5350","#4caf50","#d81b60"]},"legend":null}}},
{"data":{"name":"candles"},"mark":{"type":"rule","strokeWidth":1},
"encoding":{"x":{"field":"h","type":"quantitative","scale":{"domain":[9.846,57.103],"nice":false,"zero":false,"padding":0},"axis":{"title":null}},
"y":{"field":"lo","type":"quantitative","scale":{"domain":[26918,36165],"nice":false,"zero":false,"padding":0},"axis":{"title":null}},"y2":{"field":"hi"},
"color":{"condition":{"test":"datum.c >= datum.o","value":"#5cb8ae"},"value":"#ee7f7b"}}},
{"data":{"name":"candles"},"mark":{"type":"bar","size":4.6,"strokeWidth":0.9},
"encoding":{"x":{"field":"h","type":"quantitative","scale":{"domain":[9.846,57.103],"nice":false,"zero":false,"padding":0},"axis":{"title":null}},
"y":{"field":"o","type":"quantitative","scale":{"domain":[26918,36165],"nice":false,"zero":false,"padding":0},"axis":{"title":null}},"y2":{"field":"c"},
"fill":{"condition":{"test":"datum.c >= datum.o","value":"#cfe9e6"},"value":"#f9d2d0"},
"stroke":{"condition":{"test":"datum.c >= datum.o","value":"#4fb0a6"},"value":"#eb6d69"}}},
{"data":{"values":[{}]},"mark":{"type":"text","text":"Bitcoin / TetherUS PERPETUAL FUTURES, 15, BINANCE","fontSize":5.8,"fontWeight":"bold","align":"left","baseline":"middle","color":"#4a4a4a"},
"encoding":{"x":{"datum":9.96,"type":"quantitative","scale":{"domain":[9.846,57.103],"nice":false,"zero":false,"padding":0},"axis":{"title":null}},"y":{"datum":36020,"type":"quantitative","scale":{"domain":[26918,36165],"nice":false,"zero":false,"padding":0},"axis":{"title":null}}}},
{"data":{"values":[{}]},"mark":{"type":"text","text":"MRHAB-B (480)","fontSize":5.8,"align":"left","baseline":"middle","color":"#666666"},
"encoding":{"x":{"datum":9.96,"type":"quantitative","scale":{"domain":[9.846,57.103],"nice":false,"zero":false,"padding":0},"axis":{"title":null}},"y":{"datum":35856,"type":"quantitative","scale":{"domain":[26918,36165],"nice":false,"zero":false,"padding":0},"axis":{"title":null}}}},
{"data":{"name":"pticks"},"mark":{"type":"text","fontSize":9.5,"align":"left","baseline":"middle","color":"#333333"},
"encoding":{"x":{"datum":57.33,"type":"quantitative","scale":{"domain":[9.846,57.103],"nice":false,"zero":false,"padding":0},"axis":{"title":null}},
"y":{"field":"p","type":"quantitative","scale":{"domain":[26918,36165],"nice":false,"zero":false,"padding":0},"axis":{"title":null}},"text":{"field":"p","type":"quantitative","format":".2f"}}},
{"data":{"name":"tags"},"mark":{"type":"bar","orient":"horizontal","size":12},
"encoding":{"x":{"datum":57.12,"type":"quantitative","scale":{"domain":[9.846,57.103],"nice":false,"zero":false,"padding":0},"axis":{"title":null}},"x2":{"datum":59.3},
"y":{"field":"p","type":"quantitative","scale":{"domain":[26918,36165],"nice":false,"zero":false,"padding":0},"axis":{"title":null}},
"color":{"field":"k","type":"nominal","scale":{"domain":["lvl","last"],"range":["#00f000","#26a69a"]},"legend":null}}},
{"data":{"name":"tags"},"mark":{"type":"text","fontSize":9,"align":"center","baseline":"middle"},
"encoding":{"x":{"datum":58.06,"type":"quantitative","scale":{"domain":[9.846,57.103],"nice":false,"zero":false,"padding":0},"axis":{"title":null}},
"y":{"field":"p","type":"quantitative","scale":{"domain":[26918,36165],"nice":false,"zero":false,"padding":0},"axis":{"title":null}},"text":{"field":"lbl"},
"color":{"condition":{"test":"datum.k == 'last'","value":"#ffffff"},"value":"#000000"}}},
{"data":{"values":[{"lbl":"11:11"}]},"mark":{"type":"bar","orient":"horizontal","size":12,"color":"#22998d"},
"encoding":{"x":{"datum":57.72,"type":"quantitative","scale":{"domain":[9.846,57.103],"nice":false,"zero":false,"padding":0},"axis":{"title":null}},"x2":{"datum":59.3},
"y":{"datum":31490,"type":"quantitative","scale":{"domain":[26918,36165],"nice":false,"zero":false,"padding":0},"axis":{"title":null}}}},
{"data":{"values":[{"lbl":"11:11"}]},"mark":{"type":"text","fontSize":9,"align":"center","baseline":"middle","color":"#ffffff"},
"encoding":{"x":{"datum":58.37,"type":"quantitative","scale":{"domain":[9.846,57.103],"nice":false,"zero":false,"padding":0},"axis":{"title":null}},
"y":{"datum":31490,"type":"quantitative","scale":{"domain":[26918,36165],"nice":false,"zero":false,"padding":0},"axis":{"title":null}},"text":{"field":"lbl"}}}
]},
{"width":1232,"height":66,
"resolve":{"scale":{"color":"independent","shape":"independent"}},
"layer":[
{"data":{"name":"vband"},"mark":{"type":"area","opacity":0.45},
"encoding":{"x":{"field":"h","type":"quantitative","scale":{"domain":[9.846,57.103],"nice":false,"zero":false,"padding":0},"axis":{"values":[12,15,18,21,24,27,30,33,36,39,42,45,48,51,54],"labels":false,"ticks":false,"domain":true,"domainColor":"#9598a1","domainWidth":1.5,"grid":true,"gridColor":"#eef1f6","title":null}},
"y":{"field":"a","type":"quantitative","scale":{"domain":[-9.9,104.9],"nice":false,"zero":false,"padding":0},"axis":{"orient":"right","values":[0,40,80],"labels":false,"grid":true,"gridColor":"#eef1f6","title":null,"tickSize":4,"domainColor":"#9598a1"}},"y2":{"field":"b"},
"color":{"field":"k","type":"nominal","scale":{"domain":["dn","up"],"range":["#f7a3a3","#8fcf8f"]},"legend":null},"detail":{"field":"g"}}},
{"data":{"name":"vma"},"mark":{"type":"line","color":"#5fd3d3","strokeWidth":1.2},
"encoding":{"x":{"field":"h","type":"quantitative","scale":{"domain":[9.846,57.103],"nice":false,"zero":false,"padding":0},"axis":{"title":null}},
"y":{"field":"m","type":"quantitative","scale":{"domain":[-9.9,104.9],"nice":false,"zero":false,"padding":0},"axis":{"title":null}}}},
{"data":{"name":"candles"},"mark":{"type":"bar","size":5,"opacity":0.55},
"encoding":{"x":{"field":"h","type":"quantitative","scale":{"domain":[9.846,57.103],"nice":false,"zero":false,"padding":0},"axis":{"title":null}},
"y":{"field":"v","type":"quantitative","scale":{"domain":[-9.9,104.9],"nice":false,"zero":false,"padding":0},"axis":{"title":null}},"y2":{"datum":0},
"color":{"condition":{"test":"datum.c >= datum.o","value":"#26a69a"},"value":"#ef5350"}}},
{"data":{"name":"vmark"},"mark":{"type":"point","filled":true,"size":16,"opacity":1},
"encoding":{"x":{"field":"h","type":"quantitative","scale":{"domain":[9.846,57.103],"nice":false,"zero":false,"padding":0},"axis":{"title":null}},
"y":{"datum":85.7,"type":"quantitative","scale":{"domain":[-9.9,104.9],"nice":false,"zero":false,"padding":0},"axis":{"title":null}},
"shape":{"field":"d","type":"nominal","scale":{"domain":["up","dn"],"range":["triangle-up","triangle-down"]},"legend":null},
"color":{"field":"d","type":"nominal","scale":{"domain":["up","dn"],"range":["#138a13","#ff1a1a"]},"legend":null}}},
{"data":{"name":"vticks"},"mark":{"type":"text","fontSize":9.5,"align":"left","baseline":"middle","color":"#333333"},
"encoding":{"x":{"datum":57.33,"type":"quantitative","scale":{"domain":[9.846,57.103],"nice":false,"zero":false,"padding":0},"axis":{"title":null}},
"y":{"field":"v","type":"quantitative","scale":{"domain":[-9.9,104.9],"nice":false,"zero":false,"padding":0},"axis":{"title":null}},"text":{"field":"t"}}},
{"data":{"values":[{}]},"mark":{"type":"text","text":"Volume (14)","fontSize":6,"align":"left","baseline":"middle","color":"#555555"},
"encoding":{"x":{"datum":9.96,"type":"quantitative","scale":{"domain":[9.846,57.103],"nice":false,"zero":false,"padding":0},"axis":{"title":null}},"y":{"datum":92.7,"type":"quantitative","scale":{"domain":[-9.9,104.9],"nice":false,"zero":false,"padding":0},"axis":{"title":null}}}}
]},
{"width":1232,"height":57,
"resolve":{"scale":{"color":"independent","shape":"independent","strokeDash":"independent"}},
"layer":[
{"data":{"name":"rsil"},"mark":{"type":"rule","color":"#b8b8b8","strokeWidth":1},
"encoding":{"x":{"datum":9.9,"type":"quantitative","scale":{"domain":[9.846,57.103],"nice":false,"zero":false,"padding":0},"axis":{"values":[12,15,18,21,24,27,30,33,36,39,42,45,48,51,54],"labels":false,"ticks":false,"domain":true,"domainColor":"#9598a1","domainWidth":1.5,"grid":true,"gridColor":"#eef1f6","title":null}},"x2":{"datum":57.103},
"y":{"field":"r","type":"quantitative","scale":{"domain":[-9.9,110.6],"nice":false,"zero":false,"padding":0},"axis":{"orient":"right","values":[0,50,100],"labels":false,"grid":false,"title":null,"tickSize":4,"domainColor":"#9598a1"}},
"strokeDash":{"field":"k","type":"nominal","scale":{"domain":["ob","mid","os"],"range":[[2,2],[1,0],[2,2]]},"legend":null}}},
{"data":{"name":"fast"},"transform":[{"window":[{"op":"lead","field":"h","as":"h2"},{"op":"lead","field":"r","as":"r2"}],"sort":[{"field":"h"}]},{"filter":"datum.h2 != null"}],
"mark":{"type":"rule","strokeWidth":5,"opacity":0.38},
"encoding":{"x":{"field":"h","type":"quantitative","scale":{"domain":[9.846,57.103],"nice":false,"zero":false,"padding":0},"axis":{"title":null}},"x2":{"field":"h2"},
"y":{"field":"r","type":"quantitative","scale":{"domain":[-9.9,110.6],"nice":false,"zero":false,"padding":0},"axis":{"title":null}},"y2":{"field":"r2"},
"color":{"condition":{"test":"datum.r2 >= datum.r","value":"#43a047"},"value":"#f25c5c"}}},
{"data":{"name":"slow"},"transform":[{"window":[{"op":"lead","field":"h","as":"h2"},{"op":"lead","field":"r","as":"r2"}],"sort":[{"field":"h"}]},{"filter":"datum.h2 != null"}],
"mark":{"type":"rule","strokeWidth":1.5},
"encoding":{"x":{"field":"h","type":"quantitative","scale":{"domain":[9.846,57.103],"nice":false,"zero":false,"padding":0},"axis":{"title":null}},"x2":{"field":"h2"},
"y":{"field":"r","type":"quantitative","scale":{"domain":[-9.9,110.6],"nice":false,"zero":false,"padding":0},"axis":{"title":null}},"y2":{"field":"r2"},
"color":{"condition":{"test":"datum.r2 >= datum.r","value":"#3fe3ec"},"value":"#f03030"}}},
{"data":{"name":"rmark"},"mark":{"type":"point","filled":true,"size":14,"opacity":1},
"encoding":{"x":{"field":"h","type":"quantitative","scale":{"domain":[9.846,57.103],"nice":false,"zero":false,"padding":0},"axis":{"title":null}},
"y":{"field":"r","type":"quantitative","scale":{"domain":[-9.9,110.6],"nice":false,"zero":false,"padding":0},"axis":{"title":null}},
"shape":{"field":"s","type":"nominal","scale":{"domain":["d","t","u"],"range":["diamond","triangle-down","triangle-up"]},"legend":null},
"color":{"field":"d","type":"nominal","scale":{"domain":["up","dn"],"range":["#138a13","#ff1a1a"]},"legend":null}}},
{"data":{"name":"rticks"},"mark":{"type":"text","fontSize":9.5,"align":"left","baseline":"middle","color":"#333333"},
"encoding":{"x":{"datum":57.33,"type":"quantitative","scale":{"domain":[9.846,57.103],"nice":false,"zero":false,"padding":0},"axis":{"title":null}},
"y":{"field":"r","type":"quantitative","scale":{"domain":[-9.9,110.6],"nice":false,"zero":false,"padding":0},"axis":{"title":null}},"text":{"field":"r","type":"quantitative","format":".2f"}}},
{"data":{"values":[{}]},"mark":{"type":"text","text":"wRSI_58","fontSize":6,"align":"left","baseline":"middle","color":"#555555"},
"encoding":{"x":{"datum":9.96,"type":"quantitative","scale":{"domain":[9.846,57.103],"nice":false,"zero":false,"padding":0},"axis":{"title":null}},"y":{"datum":100,"type":"quantitative","scale":{"domain":[-9.9,110.6],"nice":false,"zero":false,"padding":0},"axis":{"title":null}}}}
]},
{"width":1232,"height":50,
"resolve":{"scale":{"color":"independent","shape":"independent"}},
"layer":[
{"data":{"values":[{"a":99,"b":-94}]},"mark":{"type":"rect","color":"#efe4d6","opacity":0.8},
"encoding":{"x":{"datum":9.846,"type":"quantitative","scale":{"domain":[9.846,57.103],"nice":false,"zero":false,"padding":0},"axis":{"values":[12,15,18,21,24,27,30,33,36,39,42,45,48,51,54],"labelExpr":"datum.value % 24 == 0 ? (datum.value == 24 ? '4' : '5') : ((datum.value % 24) < 10 ? '0' : '') + (datum.value % 24) + ':00'","labels":true,"ticks":false,"domain":true,"domainColor":"#9598a1","domainWidth":1.5,"grid":true,"gridColor":"#eef1f6","title":null,"labelPadding":6,"labelColor":"#333333"}},"x2":{"datum":47.94},
"y":{"field":"a","type":"quantitative","scale":{"domain":[-429.7,215.5],"nice":false,"zero":false,"padding":0},"axis":{"orient":"right","values":[0,-400],"labels":false,"grid":false,"title":null,"tickSize":4,"domainColor":"#9598a1"}},"y2":{"field":"b"}}},
{"data":{"values":[{"v":0}]},"mark":{"type":"rule","color":"#c8c8c8","strokeWidth":1},
"encoding":{"y":{"field":"v","type":"quantitative","scale":{"domain":[-429.7,215.5],"nice":false,"zero":false,"padding":0},"axis":{"title":null}}}},
{"data":{"name":"osc"},"mark":{"type":"line","strokeWidth":1.3},
"encoding":{"x":{"field":"h","type":"quantitative","scale":{"domain":[9.846,57.103],"nice":false,"zero":false,"padding":0},"axis":{"title":null}},
"y":{"field":"v","type":"quantitative","scale":{"domain":[-429.7,215.5],"nice":false,"zero":false,"padding":0},"axis":{"title":null}},
"color":{"field":"k","type":"nominal","scale":{"domain":["a","b","c","d","e"],"range":["#8b1a1a","#2e8b2e","#ff9800","#ff1f1f","#2233ff"]},"legend":null}}},
{"data":{"name":"omark"},"mark":{"type":"point","filled":true,"size":14,"opacity":1},
"encoding":{"x":{"field":"h","type":"quantitative","scale":{"domain":[9.846,57.103],"nice":false,"zero":false,"padding":0},"axis":{"title":null}},
"y":{"field":"v","type":"quantitative","scale":{"domain":[-429.7,215.5],"nice":false,"zero":false,"padding":0},"axis":{"title":null}},
"shape":{"field":"d","type":"nominal","scale":{"domain":["up","dn"],"range":["triangle-up","diamond"]},"legend":null},
"color":{"field":"d","type":"nominal","scale":{"domain":["up","dn"],"range":["#138a13","#ff1a1a"]},"legend":null}}},
{"data":{"name":"oticks"},"mark":{"type":"text","fontSize":9.5,"align":"left","baseline":"middle","color":"#333333"},
"encoding":{"x":{"datum":57.33,"type":"quantitative","scale":{"domain":[9.846,57.103],"nice":false,"zero":false,"padding":0},"axis":{"title":null}},
"y":{"field":"v","type":"quantitative","scale":{"domain":[-429.7,215.5],"nice":false,"zero":false,"padding":0},"axis":{"title":null}},"text":{"field":"v","type":"quantitative","format":".2f"}}}
]}
],
"config":{"font":"Liberation Sans","view":{"stroke":null},"scale":{"continuousPadding":0},"axis":{"labelFont":"Liberation Sans","labelFontSize":9.5,"labelColor":"#333333","tickColor":"#9598a1"}}
}
